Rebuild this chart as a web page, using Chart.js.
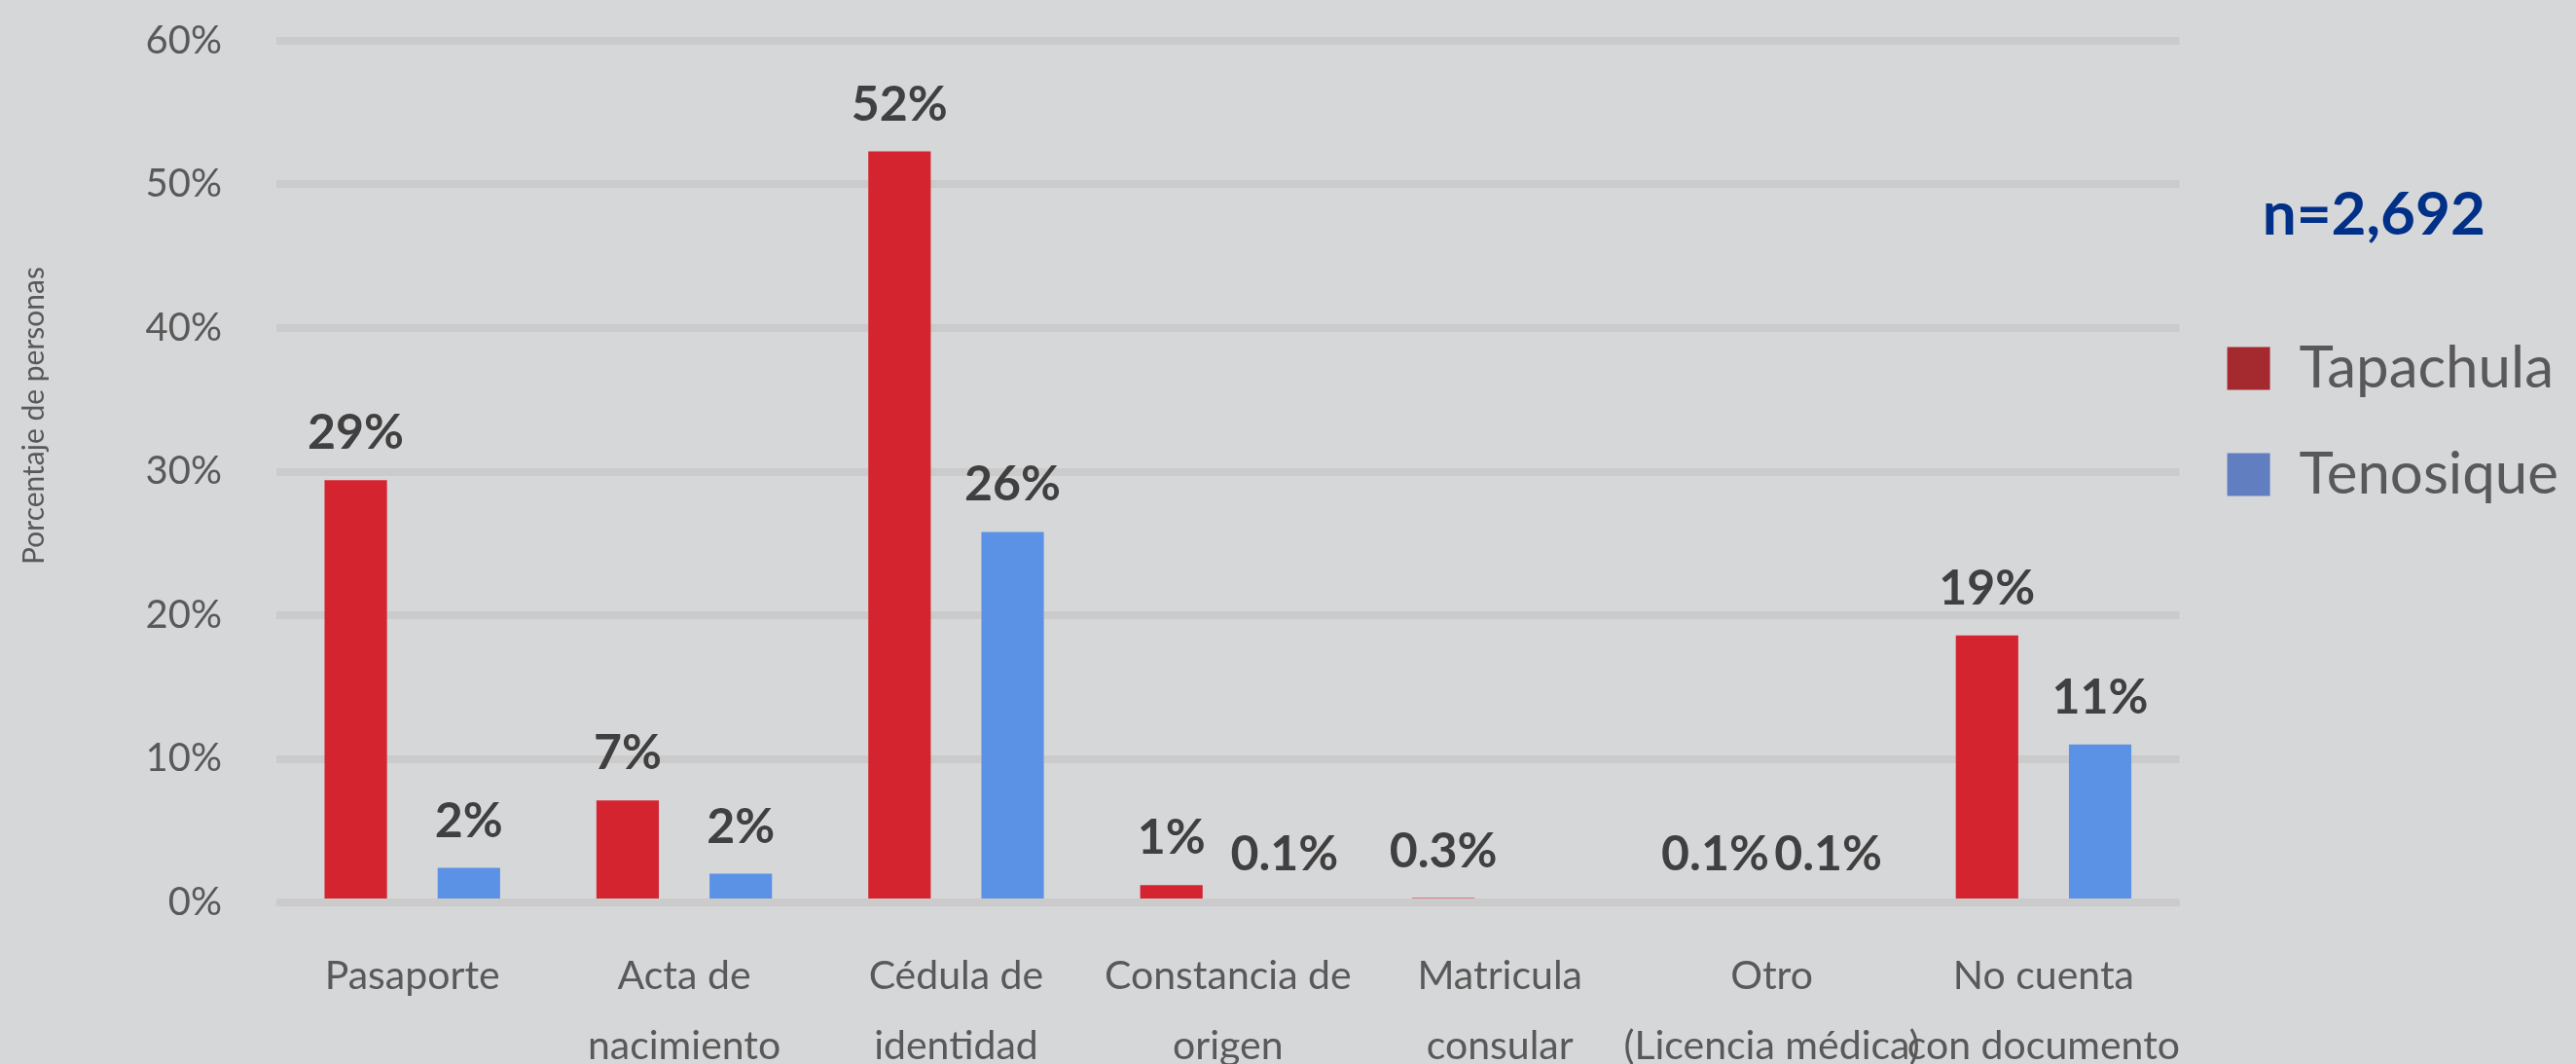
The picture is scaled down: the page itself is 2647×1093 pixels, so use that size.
<!DOCTYPE html>
<html lang="es">
<head>
    <meta charset="UTF-8">
    <title>Documento de identidad</title>
    <script src="https://cdn.jsdelivr.net/npm/chart.js"></script>
    <style>
        body { margin: 0; background: #d6d7d9; overflow: hidden; }
        #wrap { width: 2647px; height: 1093px; }
    </style>
</head>
<body>
    <div id="wrap">
        <canvas id="myChart" width="2647" height="1093"></canvas>
    </div>
    <script>
        // datos
        const categorias = [
            ['Pasaporte'],
            ['Acta de', 'nacimiento'],
            ['Cédula de', 'identidad'],
            ['Constancia de', 'origen'],
            ['Matricula', 'consular'],
            ['Otro', '(Licencia médica)'],
            ['No cuenta', 'con documento']
        ];
        const tapachula = [29.4, 7.1, 52.3, 1.2, 0.3, 0.1, 18.6];
        const tenosique = [2.4, 2.0, 25.8, 0.1, null, 0.1, 11.0];
        const ticksY = [0, 10, 20, 30, 40, 50, 60];
        const muestra = 'n=2,692';
        const tituloY = 'Porcentaje de personas';

        const fuente = 'Lato';
        const gris = '#595959';
        const colorGrid = '#cbcbcb';

        function formato(v) {
            return v < 1 ? v.toFixed(1) + '%' : Math.round(v) + '%';
        }

        // linea del 0% por encima de las barras + etiquetas de valor
        const etiquetasBarras = {
            id: 'etiquetasBarras',
            afterDatasetsDraw(chart) {
                const ctx = chart.ctx;
                const area = chart.chartArea;
                const y0 = chart.scales.y.getPixelForValue(0);
                ctx.save();
                ctx.strokeStyle = colorGrid;
                ctx.lineWidth = 8;
                ctx.beginPath();
                ctx.moveTo(area.left, y0);
                ctx.lineTo(area.right, y0);
                ctx.stroke();

                ctx.font = 'bold 50px ' + fuente;
                ctx.fillStyle = '#404040';
                ctx.textAlign = 'center';
                ctx.textBaseline = 'alphabetic';
                chart.data.datasets.forEach((ds, i) => {
                    chart.getDatasetMeta(i).data.forEach((bar, j) => {
                        const v = ds.data[j];
                        if (v === null || v === undefined) return;
                        ctx.fillText(formato(v), bar.x, bar.y - 32);
                    });
                });
                ctx.restore();
            }
        };

        // titulo del eje y (va un poco arriba del centro, como en el original)
        const tituloEjeY = {
            id: 'tituloEjeY',
            afterDraw(chart) {
                const ctx = chart.ctx;
                ctx.save();
                ctx.translate(35, 427);
                ctx.rotate(-Math.PI / 2);
                ctx.font = '30px ' + fuente;
                ctx.fillStyle = gris;
                ctx.textAlign = 'center';
                ctx.textBaseline = 'middle';
                ctx.fillText(tituloY, 0, 0);
                ctx.restore();
            }
        };

        const coloresLeyenda = ['#a52a30', '#617fc0'];

        const ctx = document.getElementById('myChart').getContext('2d');
        const chart = new Chart(ctx, {
            type: 'bar',
            data: {
                labels: categorias,
                datasets: [{
                    label: 'Tapachula',
                    data: tapachula,
                    backgroundColor: '#d4242f',
                    categoryPercentage: 0.832,
                    barPercentage: 0.552
                }, {
                    label: 'Tenosique',
                    data: tenosique,
                    backgroundColor: '#5b92e5',
                    categoryPercentage: 0.832,
                    barPercentage: 0.552
                }]
            },
            options: {
                responsive: false,
                animation: false,
                layout: {
                    padding: { top: 42, right: 8, left: 0, bottom: 0 }
                },
                scales: {
                    x: {
                        grid: { display: false },
                        border: { display: false },
                        ticks: {
                            color: gris,
                            padding: 32,
                            maxRotation: 0,
                            autoSkip: false,
                            font: { family: fuente, size: 41, lineHeight: 1.76 }
                        },
                        afterFit: (s) => { s.height = 166; }
                    },
                    y: {
                        min: 0,
                        max: 60,
                        afterBuildTicks: (s) => { s.ticks = ticksY.map(v => ({ value: v })); },
                        grid: { color: colorGrid, lineWidth: 8, drawTicks: false },
                        border: { display: false },
                        ticks: {
                            color: gris,
                            padding: 56,
                            font: { family: fuente, size: 40 },
                            callback: (v) => v + '%'
                        },
                        afterFit: (s) => {
                            s.width = 284;
                            s.paddingTop = 0;
                            s.paddingBottom = 0;
                        }
                    }
                },
                plugins: {
                    tooltip: { enabled: false },
                    legend: {
                        position: 'right',
                        align: 'start',
                        title: {
                            display: true,
                            text: muestra,
                            color: '#003087',
                            font: { family: fuente, size: 62, weight: 'bold' },
                            padding: { top: 148, bottom: 35 }
                        },
                        labels: {
                            color: gris,
                            boxWidth: 44,
                            boxHeight: 44,
                            padding: 49,
                            font: { family: fuente, size: 60 },
                            generateLabels: (c) => c.data.datasets.map((ds, i) => ({
                                text: ds.label,
                                fillStyle: coloresLeyenda[i],
                                strokeStyle: coloresLeyenda[i],
                                lineWidth: 0,
                                fontColor: gris,
                                datasetIndex: i
                            }))
                        }
                    }
                }
            },
            plugins: [etiquetasBarras, tituloEjeY]
        });
    </script>
</body>
</html>
